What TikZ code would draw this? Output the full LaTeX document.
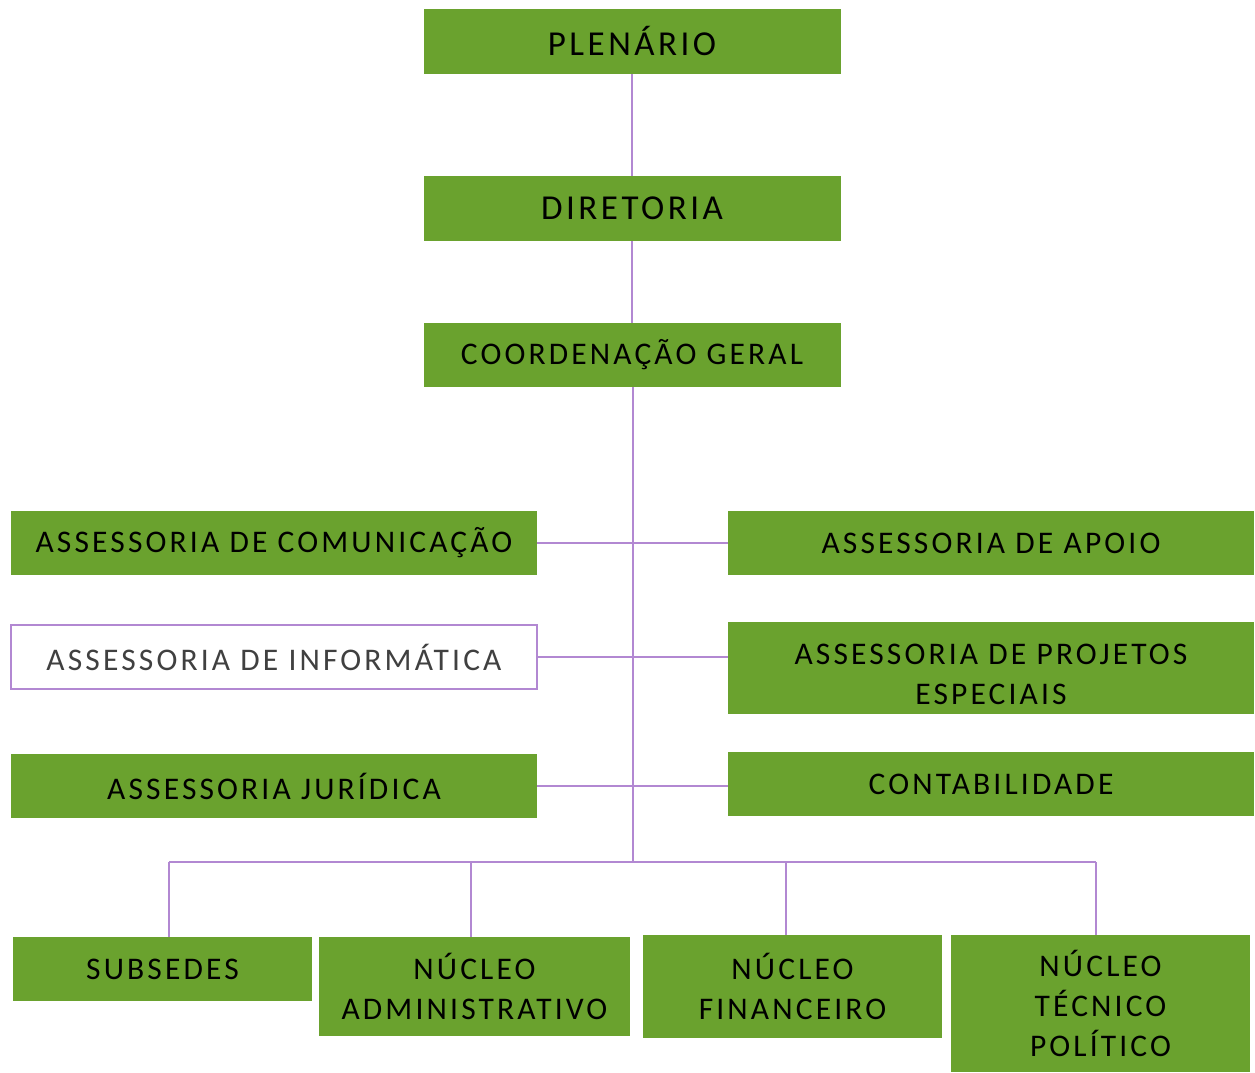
\documentclass[tikz,border=0pt]{standalone}
\usepackage{fontspec}
\setmainfont{Carlito}[LetterSpace=10]
\usetikzlibrary{positioning}
\definecolor{orggreen}{RGB}{106,162,46}
\definecolor{orglilac}{RGB}{178,136,210}
\definecolor{orggray}{RGB}{64,64,64}
\tikzset{
  unit/.style={fill=orggreen, inner sep=0pt, align=center, text=black,
               font=\fontsize{31.5}{40}\selectfont},
  head/.style={unit, minimum width=417pt, minimum height=65pt,
               font=\fontsize{35}{40}\selectfont},
  side/.style={unit, minimum width=526pt, minimum height=64pt},
  open/.style={side, fill=white, draw=orglilac, line width=2.5pt, text=orggray},
  base/.style={unit, minimum width=299pt},
  link/.style={draw=orglilac, line width=1.3pt}
}

\begin{document}
\begin{tikzpicture}[x=1pt, y=-1pt]
  \useasboundingbox (0,0) rectangle (1255,1072);
  % top of the chart
  \node[head] (plen) at (632,41.5) {PLENÁRIO};
  \node[head] (dir) at (632,208.5) {DIRETORIA};
  \node[head, minimum height=64pt, font=\fontsize{31.5}{40}\selectfont] (coord) at (632,355) {COORDENAÇÃO GERAL};
  % assessorias
  \node[side] (com) at (274,543) {ASSESSORIA DE COMUNICAÇÃO};
  \node[side] (apoio) at (991,543) {ASSESSORIA DE APOIO};
  \node[open] (info) at (274,657) {ASSESSORIA DE INFORMÁTICA};
  \node[side, minimum height=92pt, text height=74pt] (proj) at (991,668) {ASSESSORIA DE PROJETOS\\ESPECIAIS};
  \node[side] (jur) at (274,786) {ASSESSORIA JURÍDICA};
  \node[side] (cont) at (991,784) {CONTABILIDADE};
  % nucleos
  \node[base, minimum height=64pt] (sub) at (162.5,969) {SUBSEDES};
  \node[base, minimum width=311pt, minimum height=99pt] (adm) at (474.5,986.5) {NÚCLEO\\ADMINISTRATIVO};
  \node[base, minimum height=103pt] (fin) at (792.5,986.5) {NÚCLEO\\FINANCEIRO};
  \node[base, minimum height=137pt] (tec) at (1100.5,1003.5) {NÚCLEO\\TÉCNICO\\POLÍTICO};
  % bus
  \coordinate (trunk) at (633,862);
  \coordinate (b1) at (169,862);
  \coordinate (b2) at (471,862);
  \coordinate (b3) at (786,862);
  \coordinate (b4) at (1096,862);

  \foreach \Source/\Target in {plen/dir, dir/coord}
    \draw[link] (\Source.south) -- (\Target.north);
  \draw[link] (coord.south -| trunk) -- (trunk);
  \draw[link] (b1) -- (b4);
  \foreach \Source/\Target in {com/apoio, info/proj, jur/cont}
    \draw[link] (\Source.east) -- (\Source.east -| \Target.west);
  \foreach \Source/\Target in {b1/sub, b2/adm, b3/fin, b4/tec}
    \draw[link] (\Source) -- (\Source |- \Target.north);
\end{tikzpicture}
\end{document}
